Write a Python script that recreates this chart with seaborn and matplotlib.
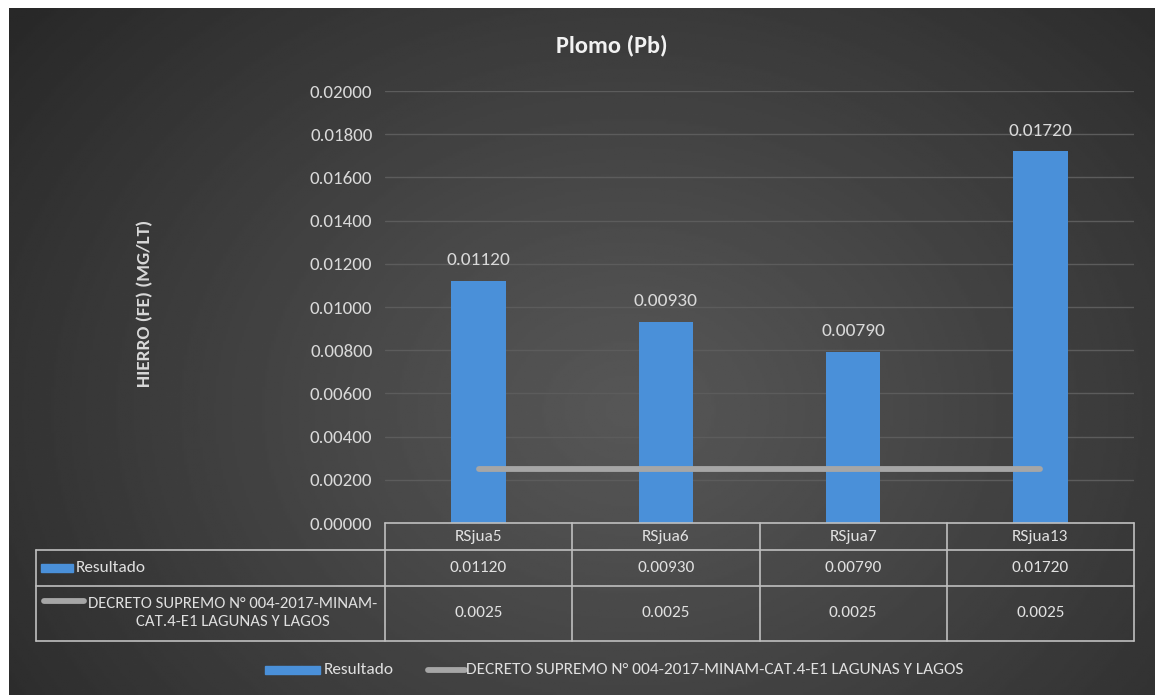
import numpy as np
import pandas as pd
import matplotlib
matplotlib.use("Agg")
import matplotlib.pyplot as plt
from matplotlib import font_manager
from matplotlib.patches import Rectangle
from matplotlib.lines import Line2D
import seaborn as sns

# ---- data ----
categories = ["RSjua5", "RSjua6", "RSjua7", "RSjua13"]
resultado = [0.01120, 0.00930, 0.00790, 0.01720]
decreto = [0.0025, 0.0025, 0.0025, 0.0025]
series_names = ["Resultado", "DECRETO SUPREMO N° 004-2017-MINAM-CAT.4-E1 LAGUNAS Y LAGOS"]
table_row_labels = ["Resultado", "DECRETO SUPREMO N° 004-2017-MINAM-\nCAT.4-E1 LAGUNAS Y LAGOS"]
decreto_labels = ["0.0025", "0.0025", "0.0025", "0.0025"]
title = "Plomo (Pb)"
ylabel = "HIERRO (FE) (MG/LT)"
yticks = [0.0, 0.002, 0.004, 0.006, 0.008, 0.010, 0.012, 0.014, 0.016, 0.018, 0.020]

sns.set_theme(style="dark")
avail = {f.name for f in font_manager.fontManager.ttflist}
fam = "Lato"
for cand in ["Carlito", "Liberation Sans Narrow", "Lato"]:
    if cand in avail:
        fam = cand
        break
plt.rcParams["font.family"] = [fam, "DejaVu Sans"]

W, H = 1155, 695
fig = plt.figure(figsize=(W / 100, H / 100), dpi=100)
fig.patch.set_facecolor("white")
renderer = fig.canvas.get_renderer()

def fx(px):
    return px / W

def fy(py):
    return 1 - py / H

def fit_size(s, target_px, weight="normal", base=12.0):
    t = fig.text(0, 0, s, fontsize=base, fontweight=weight)
    w = t.get_window_extent(renderer=renderer).width
    t.remove()
    return base * target_px / w

fs = fit_size(series_names[1], 464) * 1.07
fs_row = fit_size("DECRETO SUPREMO N° 004-2017-MINAM-", 290)
fs_tick = fit_size("0.02000", 57) * 1.08
fs_dl = fit_size("0.00930", 59) * 1.08
fs_title = fit_size(title, 110, weight="bold")
fs_ylab = fit_size(ylabel, 167, weight="bold")

# background with radial gradient
bg = fig.add_axes([fx(9), 0, 1 - fx(9), fy(8)])
yy, xx = np.mgrid[0:300, 0:500]
cx, cy = 270, 175
r = np.sqrt(((xx - cx) / 340.0) ** 2 + ((yy - cy) / 270.0) ** 2)
r = np.clip(r, 0, 1)
lo, hi = 0.16, 0.34
img = hi - (hi - lo) * r ** 1.1
bg.imshow(img, cmap="gray", vmin=0, vmax=1, aspect="auto", extent=[0, 1, 0, 1], origin="upper")
bg.set_axis_off()

# main axes
L, R, T, B = 385, 1134, 91, 523
ax = fig.add_axes([fx(L), fy(B), fx(R) - fx(L), fy(T) - fy(B)])
ax.set_facecolor("none")
df = pd.DataFrame({"cat": categories, "Resultado": resultado, "Decreto": decreto})
sns.barplot(data=df, x="cat", y="Resultado", ax=ax, color="#4a90d9", width=0.29,
            saturation=1, edgecolor="none", zorder=3)
ax.plot(np.arange(len(categories)), df["Decreto"], color="#a6a6a6", lw=4.2,
        solid_capstyle="round", zorder=4)
ax.set_ylim(0, 0.02)
ax.set_xlim(-0.5, len(categories) - 0.5)
ax.set_yticks(yticks)
ax.set_yticklabels([f"{v:.5f}" for v in yticks], color="#d9d9d9", fontsize=fs_tick)
ax.tick_params(axis="y", length=0, pad=9)
ax.set_xticks([])
ax.set_xlabel("")
ax.set_ylabel("")
ax.grid(axis="y", color="#5c5c5c", lw=1.0, zorder=0)
ax.grid(axis="x", visible=False)
for s in ax.spines.values():
    s.set_visible(False)
for i, v in enumerate(resultado):
    ax.text(i, v + 0.0006, f"{v:.5f}", ha="center", va="bottom", color="#d9d9d9", fontsize=fs_dl)

# title and y label
fig.text(fx(612), fy(45), title, ha="center", va="center", color="#f2f2f2",
         fontsize=fs_title, fontweight="bold")
fig.text(fx(145), fy(303), ylabel, ha="center", va="center", rotation=90,
         color="#d9d9d9", fontsize=fs_ylab, fontweight="bold")

# data table
tcol = "#bfbfbf"
tl = 36
rows_y = [523, 550, 586, 641]
col_x = [L + (R - L) * i / len(categories) for i in range(len(categories) + 1)]
fig.add_artist(Line2D([fx(L), fx(R)], [fy(523), fy(523)], color=tcol, lw=1.2))
for yv in rows_y[1:]:
    fig.add_artist(Line2D([fx(tl), fx(R)], [fy(yv), fy(yv)], color=tcol, lw=1.2))
for xv in col_x:
    fig.add_artist(Line2D([fx(xv), fx(xv)], [fy(523), fy(641)], color=tcol, lw=1.2))
fig.add_artist(Line2D([fx(tl), fx(tl)], [fy(550), fy(641)], color=tcol, lw=1.2))

txtc = "#e0e0e0"
for i, c in enumerate(categories):
    xc = fx((col_x[i] + col_x[i + 1]) / 2)
    fig.text(xc, fy(537), c, ha="center", va="center", color=txtc, fontsize=fs)
    fig.text(xc, fy(568), f"{resultado[i]:.5f}", ha="center", va="center", color=txtc, fontsize=fs)
    fig.text(xc, fy(613), decreto_labels[i], ha="center", va="center", color=txtc, fontsize=fs)

fig.add_artist(Rectangle((fx(41), fy(572)), fx(73) - fx(41), fy(564) - fy(572),
                         color="#4a90d9", transform=fig.transFigure))
fig.text(fx(76), fy(568), table_row_labels[0], ha="left", va="center", color=txtc, fontsize=fs)
fig.add_artist(Line2D([fx(44), fx(84)], [fy(601), fy(601)], color="#a6a6a6", lw=4.2,
                      solid_capstyle="round"))
fig.text(fx(233), fy(613), table_row_labels[1], ha="center", va="center", color=txtc,
         fontsize=fs_row, linespacing=1.45, multialignment="center")

# legend
fig.add_artist(Rectangle((fx(265), fy(674)), fx(320) - fx(265), fy(666) - fy(674),
                         color="#4a90d9", transform=fig.transFigure))
fig.text(fx(324), fy(670), series_names[0], ha="left", va="center", color=txtc, fontsize=fs)
fig.add_artist(Line2D([fx(428), fx(465)], [fy(670), fy(670)], color="#a6a6a6", lw=4.2,
                      solid_capstyle="round"))
fig.text(fx(466), fy(670), series_names[1], ha="left", va="center", color=txtc, fontsize=fs)

fig.savefig("out.png", dpi=100, facecolor=fig.get_facecolor())
